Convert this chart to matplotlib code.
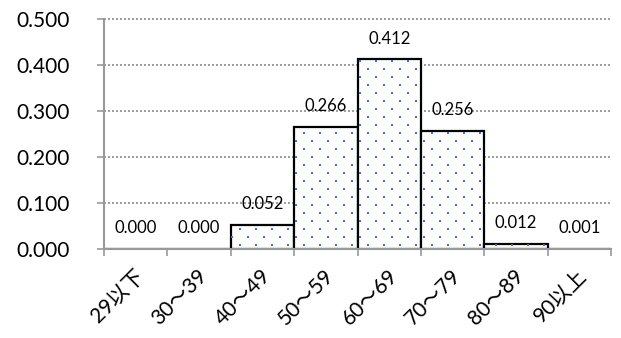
import matplotlib
matplotlib.use("Agg")
import matplotlib.pyplot as plt
import matplotlib.transforms as mtransforms
import numpy as np

categories = ["29以下", "30～39", "40～49", "50～59", "60～69", "70～79", "80～89", "90以上"]
values = [0.000, 0.000, 0.052, 0.266, 0.412, 0.256, 0.012, 0.001]
yticks = [0.0, 0.1, 0.2, 0.3, 0.4, 0.5]

plt.rcParams['font.family'] = ['Lato', 'Noto Sans CJK JP', 'DejaVu Sans']

fig = plt.figure(figsize=(6.21, 3.38), dpi=100)
ax = fig.add_axes([0.1675, 0.263, 0.8165, 0.681])

x = np.arange(len(categories))
bars = ax.bar(x, values, width=1.0, color='white', edgecolor='black', linewidth=1.6, zorder=3)

ax.set_xlim(-0.5, len(categories) - 0.5)
ax.set_ylim(0, 0.5)

# gridlines
ax.hlines(yticks[1:], -0.5, len(categories) - 0.5, linestyles=[(0, (1.2, 1.2))],
          colors='#8c8c8c', linewidth=1.2, zorder=2, clip_on=False)

# dotted fill pattern clipped to each bar
xs_step = 16 / 63.4
ys_step = 8 / 460
gx, gy = [], []
row = 0
yy = ys_step / 2
while yy < 0.5:
    off = 0 if row % 2 == 0 else xs_step / 2
    xx = -0.5 + xs_step / 2 + off
    while xx < len(categories) - 0.5:
        gx.append(xx); gy.append(yy)
        xx += xs_step
    yy += ys_step
    row += 1
for b in bars:
    sc = ax.scatter(gx, gy, s=1.6, marker='s', color='#4472C4', linewidths=0, zorder=4)
    sc.set_clip_path(b)

# data labels
for xi, v in zip(x, values):
    ax.annotate(f"{v:.3f}", (xi, v), xytext=(0, 15), textcoords='offset points',
                ha='center', va='center', fontsize=12, zorder=5)

ax.set_yticks(yticks)
ax.set_yticklabels([f"{t:.3f}" for t in yticks], fontsize=15)

ax.set_xticks(np.arange(len(categories) + 1) - 0.5)
ax.set_xticklabels([])
ax.set_xticks(x, minor=True)
ax.set_xticklabels(categories, minor=True, rotation=45, ha='right', va='center',
                   rotation_mode='anchor', fontsize=15)
ax.tick_params(axis='x', which='minor', length=0, pad=17)
ax.tick_params(axis='x', which='major', length=5, color='#999999', width=1.2)
ax.tick_params(axis='y', length=5, color='#999999', width=1.2, pad=20)
shift = mtransforms.ScaledTranslation(5 / 100, 0, fig.dpi_scale_trans)
for lbl in ax.xaxis.get_minorticklabels():
    lbl.set_transform(lbl.get_transform() + shift)

for s in ['top', 'right']:
    ax.spines[s].set_visible(False)
for s in ['left', 'bottom']:
    ax.spines[s].set_color('#999999')
    ax.spines[s].set_linewidth(1.5)
    ax.spines[s].set_zorder(6)

fig.savefig("out.png", dpi=100)
